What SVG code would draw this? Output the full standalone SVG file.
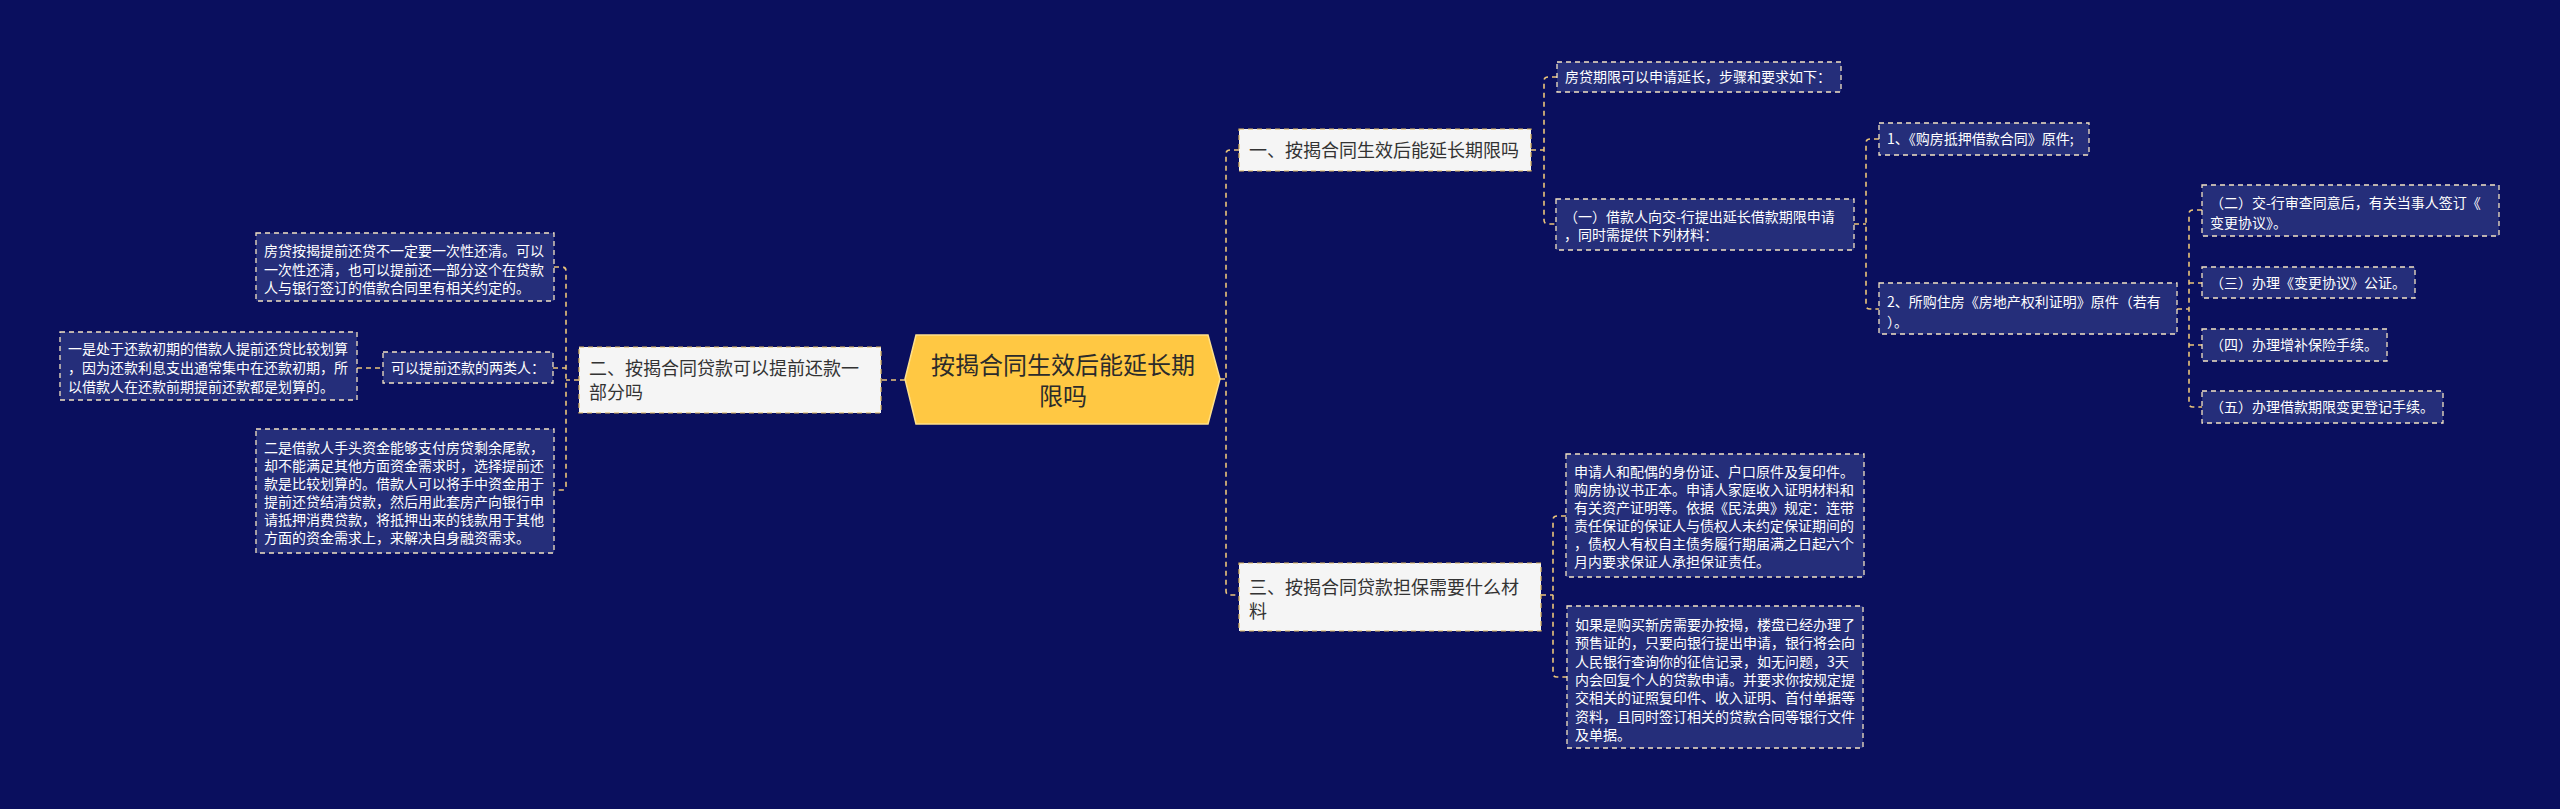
<svg xmlns="http://www.w3.org/2000/svg" width="2560" height="809" viewBox="0 0 2560 809">
<defs>
<style>
.bg{fill:#0A0F5E}
.leaf{fill:#252E7A;stroke:#F3E3C3;stroke-width:1.3;stroke-dasharray:5 4}
.branch{fill:#F5F5F5;stroke:#D9B45A;stroke-width:1.2;stroke-dasharray:5 4}
.lt{font-family:"Noto Sans CJK SC","Noto Sans",sans-serif;font-size:14px;fill:#FFFFFF}
.bt{font-family:"Noto Sans CJK SC","Noto Sans",sans-serif;font-size:18px;fill:#333333}
.ct{font-family:"Noto Sans CJK SC","Noto Sans",sans-serif;font-size:24px;fill:#2B2B2B;text-anchor:middle}
.conn{fill:none;stroke:#EBC57A;stroke-width:1.6;stroke-dasharray:5 4}
</style>
</defs>
<rect class="bg" x="0" y="0" width="2560" height="809"/>

<g id="connectors">
<path class="conn" d="M1220,379 H1226"/>
<path class="conn" d="M1239,150 H1230 Q1226,150 1226,154 V591 Q1226,595 1230,595 H1239"/>
<path class="conn" d="M905,380 H881"/>
<path class="conn" d="M579,380 H566"/>
<path class="conn" d="M554,267 H562 Q566,267 566,271 V486 Q566,490 562,490 H554"/>
<path class="conn" d="M553,368 H566"/>
<path class="conn" d="M357,368 H383"/>
<path class="conn" d="M1531,150 H1544"/>
<path class="conn" d="M1557,77 H1548 Q1544,77 1544,81 V220 Q1544,224 1548,224 H1556"/>
<path class="conn" d="M1854,224 H1866"/>
<path class="conn" d="M1879,139 H1870 Q1866,139 1866,143 V305 Q1866,309 1870,309 H1879"/>
<path class="conn" d="M2177,309 H2189"/>
<path class="conn" d="M2202,210 H2193 Q2189,210 2189,214 V403 Q2189,407 2193,407 H2202"/>
<path class="conn" d="M2189,283 H2202"/>
<path class="conn" d="M2189,345 H2202"/>
<path class="conn" d="M1541,595 H1553"/>
<path class="conn" d="M1566,516 H1557 Q1553,516 1553,520 V673 Q1553,677 1557,677 H1567"/>
</g>

<g id="center">
<polygon points="905,379 916,335 1208,335 1220,379 1208,424 916,424" fill="#FFC843" stroke="#FFE08A" stroke-width="1.5"/>
<text class="ct" x="1063" y="374">按揭合同生效后能延长期</text>
<text class="ct" x="1063" y="405">限吗</text>
</g>

<g id="branch1">
<rect class="branch" x="1239" y="129" width="292" height="42"/>
<text class="bt" x="1249" y="156.5">一、按揭合同生效后能延长期限吗</text>
</g>

<g id="branch2">
<rect class="branch" x="579" y="347" width="302" height="66"/>
<text class="bt" x="589" y="374.5">二、按揭合同贷款可以提前还款一</text>
<text class="bt" x="589" y="398.5">部分吗</text>
</g>

<g id="branch3">
<rect class="branch" x="1239" y="563" width="302" height="68"/>
<text class="bt" x="1249" y="593.5">三、按揭合同贷款担保需要什么材</text>
<text class="bt" x="1249" y="617.5">料</text>
</g>

<g id="leaf-steps">
<rect class="leaf" x="1557" y="62" width="284" height="30"/>
<text class="lt" x="1565" y="82">房贷期限可以申请延长，步骤和要求如下：</text>
</g>

<g id="leaf-apply">
<rect class="leaf" x="1556" y="199" width="298" height="51"/>
<text class="lt" x="1564" y="222">（一）借款人向交-行提出延长借款期限申请</text>
<text class="lt" x="1564" y="240">，同时需提供下列材料：</text>
</g>

<g id="leaf-contract">
<rect class="leaf" x="1879" y="123" width="210" height="32"/>
<text class="lt" x="1887" y="144">1、《购房抵押借款合同》原件;</text>
</g>

<g id="leaf-property">
<rect class="leaf" x="1879" y="283" width="298" height="51"/>
<text class="lt" x="1887" y="307">2、所购住房《房地产权利证明》原件（若有</text>
<text class="lt" x="1887" y="327">）。</text>
</g>

<g id="leaf-2">
<rect class="leaf" x="2202" y="185" width="297" height="51"/>
<text class="lt" x="2210" y="208">（二）交-行审查同意后，有关当事人签订《</text>
<text class="lt" x="2210" y="228">变更协议》。</text>
</g>

<g id="leaf-3">
<rect class="leaf" x="2202" y="267" width="213" height="31"/>
<text class="lt" x="2210" y="288">（三）办理《变更协议》公证。</text>
</g>

<g id="leaf-4">
<rect class="leaf" x="2202" y="329" width="185" height="32"/>
<text class="lt" x="2210" y="350">（四）办理增补保险手续。</text>
</g>

<g id="leaf-5">
<rect class="leaf" x="2202" y="391" width="241" height="32"/>
<text class="lt" x="2210" y="412">（五）办理借款期限变更登记手续。</text>
</g>

<g id="leaf-materials">
<rect class="leaf" x="1566" y="454" width="298" height="123"/>
<text class="lt" x="1574" y="477">申请人和配偶的身份证、户口原件及复印件。</text>
<text class="lt" x="1574" y="495">购房协议书正本。申请人家庭收入证明材料和</text>
<text class="lt" x="1574" y="513">有关资产证明等。依据《民法典》规定：连带</text>
<text class="lt" x="1574" y="531">责任保证的保证人与债权人未约定保证期间的</text>
<text class="lt" x="1574" y="549">，债权人有权自主债务履行期届满之日起六个</text>
<text class="lt" x="1574" y="567">月内要求保证人承担保证责任。</text>
</g>

<g id="leaf-newhouse">
<rect class="leaf" x="1567" y="606" width="296" height="142"/>
<text class="lt" x="1575" y="630">如果是购买新房需要办按揭，楼盘已经办理了</text>
<text class="lt" x="1575" y="648.3">预售证的，只要向银行提出申请，银行将会向</text>
<text class="lt" x="1575" y="666.6">人民银行查询你的征信记录，如无问题，3天</text>
<text class="lt" x="1575" y="684.9">内会回复个人的贷款申请。并要求你按规定提</text>
<text class="lt" x="1575" y="703.2">交相关的证照复印件、收入证明、首付单据等</text>
<text class="lt" x="1575" y="721.5">资料，且同时签订相关的贷款合同等银行文件</text>
<text class="lt" x="1575" y="739.8">及单据。</text>
</g>

<g id="leaf-prepay">
<rect class="leaf" x="256" y="233" width="298" height="68"/>
<text class="lt" x="264" y="256">房贷按揭提前还贷不一定要一次性还清。可以</text>
<text class="lt" x="264" y="274.5">一次性还清，也可以提前还一部分这个在贷款</text>
<text class="lt" x="264" y="293">人与银行签订的借款合同里有相关约定的。</text>
</g>

<g id="leaf-twotypes">
<rect class="leaf" x="383" y="352" width="170" height="31"/>
<text class="lt" x="391" y="373">可以提前还款的两类人：</text>
</g>

<g id="leaf-first">
<rect class="leaf" x="60" y="332" width="297" height="68"/>
<text class="lt" x="68" y="354">一是处于还款初期的借款人提前还贷比较划算</text>
<text class="lt" x="68" y="373">，因为还款利息支出通常集中在还款初期，所</text>
<text class="lt" x="68" y="392">以借款人在还款前期提前还款都是划算的。</text>
</g>

<g id="leaf-second">
<rect class="leaf" x="256" y="429" width="298" height="124"/>
<text class="lt" x="264" y="453">二是借款人手头资金能够支付房贷剩余尾款，</text>
<text class="lt" x="264" y="471">却不能满足其他方面资金需求时，选择提前还</text>
<text class="lt" x="264" y="489">款是比较划算的。借款人可以将手中资金用于</text>
<text class="lt" x="264" y="507">提前还贷结清贷款，然后用此套房产向银行申</text>
<text class="lt" x="264" y="525">请抵押消费贷款，将抵押出来的钱款用于其他</text>
<text class="lt" x="264" y="543">方面的资金需求上，来解决自身融资需求。</text>
</g>
</svg>
